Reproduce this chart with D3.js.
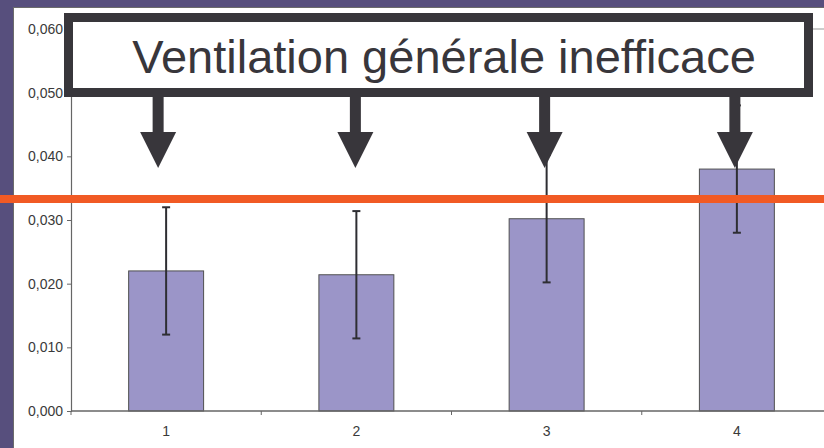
<!DOCTYPE html>
<html>
<head>
<meta charset="utf-8">
<script src="https://cdn.jsdelivr.net/npm/d3@7"></script>
<style>
  body { margin: 0; background: #574f7d; }
  svg { display: block; }
  text { font-family: "Liberation Sans", Arial, Helvetica, sans-serif; }
</style>
</head>
<body>
<svg id="chart" width="824" height="448"></svg>
<script>
/* data */
var categories = ["1", "2", "3", "4"];
var values = [0.0220, 0.0214, 0.0302, 0.0380];
var errors = [0.0100, 0.0100, 0.0100, 0.0100];
var yTicks = [0, 0.01, 0.02, 0.03, 0.04, 0.05, 0.06];
var limitValue = 0.0333;   /* orange threshold line */
var annotation = "Ventilation générale inefficace";
var arrowShift = [-8, -1, -2, -2]; /* arrows sit a bit off the bar centres */

var svg = d3.select("#chart");
var W = 824, H = 448;

/* purple slide frame + white chart area */
svg.append("rect").attr("width", W).attr("height", H).attr("fill", "#574f7d");
svg.append("rect")
    .attr("x", 13.5).attr("y", 7.5)
    .attr("width", W).attr("height", H)
    .attr("fill", "#fff").attr("stroke", "#6b6b6b");

/* plot area runs a bit past the right edge, like the original */
var margin = {top: 29, left: 71, bottom: 411, right: 832};

var x = d3.scaleBand()
    .domain(categories)
    .range([margin.left, margin.right])
    .paddingInner(0.606)
    .paddingOuter(0.303);

var y = d3.scaleLinear()
    .domain([0, 0.06])
    .range([margin.bottom, margin.top]);

var step = x.step();
var fmt = function(d) { return d3.format(".3f")(d).replace(".", ","); };

/* plot area top border */
svg.append("line")
    .attr("x1", margin.left).attr("x2", margin.right)
    .attr("y1", y(0.06)).attr("y2", y(0.06))
    .attr("stroke", "#999").attr("stroke-width", 1);

/* bars */
svg.append("g").selectAll("rect")
    .data(values)
  .enter().append("rect")
    .attr("x", function(d, i) { return x(categories[i]); })
    .attr("y", function(d) { return y(d); })
    .attr("width", x.bandwidth())
    .attr("height", function(d) { return y(0) - y(d); })
    .attr("fill", "#9b95c8")
    .attr("stroke", "#505050")
    .attr("stroke-width", 1);

/* error bars */
var eb = svg.append("g").attr("stroke", "#2e2e33").attr("stroke-width", 2);
values.forEach(function(v, i) {
  var cx = x(categories[i]) + x.bandwidth() / 2;
  eb.append("line").attr("x1", cx).attr("x2", cx)
      .attr("y1", y(v + errors[i])).attr("y2", y(v - errors[i]));
  [v + errors[i], v - errors[i]].forEach(function(e) {
    eb.append("line").attr("x1", cx - 4).attr("x2", cx + 4)
        .attr("y1", y(e)).attr("y2", y(e));
  });
});

/* y axis */
var yAxis = svg.append("g")
    .attr("transform", "translate(" + margin.left + ",0)")
    .call(d3.axisLeft(y).tickValues(yTicks).tickFormat(fmt).tickSize(4).tickPadding(4));
yAxis.select(".domain").attr("stroke", "#666").attr("stroke-width", 1.2);
yAxis.selectAll(".tick line").attr("stroke", "#666");
yAxis.selectAll("text").attr("fill", "#3a3a3a").style("font-size", "14px");

/* x axis with ticks between categories */
svg.append("line")
    .attr("x1", margin.left).attr("x2", margin.right)
    .attr("y1", y(0)).attr("y2", y(0))
    .attr("stroke", "#666").attr("stroke-width", 1.5);
svg.append("g").selectAll("line")
    .data(d3.range(categories.length + 1))
  .enter().append("line")
    .attr("x1", function(i) { return margin.left + i * step; })
    .attr("x2", function(i) { return margin.left + i * step; })
    .attr("y1", y(0)).attr("y2", y(0) + 4)
    .attr("stroke", "#666");
svg.append("g").selectAll("text")
    .data(categories)
  .enter().append("text")
    .attr("x", function(d) { return x(d) + x.bandwidth() / 2; })
    .attr("y", y(0) + 25)
    .attr("text-anchor", "middle")
    .attr("fill", "#3a3a3a")
    .style("font-size", "14px")
    .text(function(d) { return d; });

/* orange threshold line, across the whole slide */
svg.append("line")
    .attr("x1", 0).attr("x2", W)
    .attr("y1", y(limitValue)).attr("y2", y(limitValue))
    .attr("stroke", "#f15a24").attr("stroke-width", 8);

/* arrows from the box down to each bar */
var dark = "#38363b";
var arrows = svg.append("g").attr("fill", dark);
categories.forEach(function(c, i) {
  var cx = x(c) + x.bandwidth() / 2 + arrowShift[i];
  arrows.append("rect").attr("x", cx - 5.5).attr("y", 90).attr("width", 11).attr("height", 44);
  arrows.append("path")
      .attr("d", "M" + (cx - 18) + ",132L" + (cx + 18) + ",132L" + cx + ",168Z");
});

/* annotation box */
svg.append("rect")
    .attr("x", 68.5).attr("y", 17.5)
    .attr("width", 740).attr("height", 75)
    .attr("fill", "#fff").attr("stroke", dark).attr("stroke-width", 9);
svg.append("text")
    .attr("x", 444).attr("y", 73)
    .attr("text-anchor", "middle")
    .attr("fill", dark)
    .style("font-size", "47px")
    .text(annotation);
</script>
</body>
</html>
